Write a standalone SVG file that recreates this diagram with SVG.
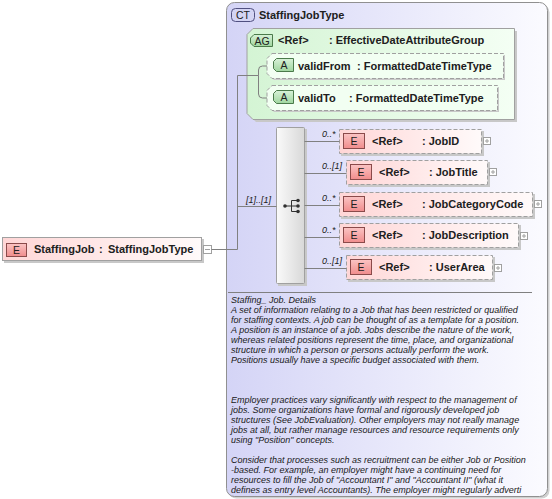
<svg xmlns="http://www.w3.org/2000/svg" width="552" height="499" viewBox="0 0 552 499">
<defs>
<linearGradient id="gCT" x1="0" y1="0" x2="1" y2="0"><stop offset="0" stop-color="#d4d4f6"/><stop offset="1" stop-color="#fbfbff"/></linearGradient>
<linearGradient id="gAG" x1="0" y1="0" x2="1" y2="0"><stop offset="0" stop-color="#d4f4d4"/><stop offset="1" stop-color="#f4fff4"/></linearGradient>
<linearGradient id="gEl" x1="0" y1="0" x2="1" y2="0"><stop offset="0" stop-color="#ffd6d6"/><stop offset="1" stop-color="#fffafa"/></linearGradient>
<linearGradient id="gSeq" x1="0" y1="0" x2="1" y2="0"><stop offset="0" stop-color="#fafafa"/><stop offset="1" stop-color="#d8d8d8"/></linearGradient>
<linearGradient id="gE" x1="0" y1="0" x2="0" y2="1"><stop offset="0" stop-color="#fbc4c4"/><stop offset="1" stop-color="#f08c8c"/></linearGradient>
<linearGradient id="gA" x1="0" y1="0" x2="0" y2="1"><stop offset="0" stop-color="#d8f2d8"/><stop offset="1" stop-color="#9fd69f"/></linearGradient>
</defs>
<style>
.t{font-family:"Liberation Sans",Arial,sans-serif;font-size:11px;font-weight:bold;fill:#202020}
.b{font-family:"Liberation Sans",Arial,sans-serif;font-size:10.5px;fill:#202020;text-anchor:middle}
.m{font-family:"Liberation Sans",Arial,sans-serif;font-size:9px;font-style:italic;fill:#202020}
.d{font-family:"Liberation Sans",Arial,sans-serif;font-size:9px;font-style:italic;fill:#202020}
.ln{fill:none;stroke:#808080;stroke-width:1}
.sh{fill:#c8c8c8}
.dash{fill:url(#gEl);stroke:#a0a0a0;stroke-dasharray:4,2}
.eb{fill:url(#gE);stroke:#8a4a4a;stroke-width:1}
.ab{fill:url(#gA);stroke:#4a7a4a;stroke-width:1}
.pb{fill:#ffffff;stroke:#a0a0a0}
.pl{stroke:#a0a0a0;stroke-width:1}
</style>

<g id="complexType">
<rect x="228.5" y="4.5" width="321" height="494" rx="8" fill="#d0d0d0"/>
<rect x="226.5" y="2.5" width="321" height="494" rx="8" fill="url(#gCT)" stroke="#909090"/>
<rect x="231.5" y="8.5" width="23" height="13" rx="4" fill="#d4d4f4" stroke="#505080"/>
<text class="b" x="243" y="18.5">CT</text>
<text class="t" x="259" y="19">StaffingJobType</text>
<line x1="228" y1="292.5" x2="532" y2="292.5" stroke="#808080"/>
<text class="d" x="231" y="303">Staffing_ Job. Details</text>
<text class="d" x="231" y="313">A set of information relating to a Job that has been restricted or qualified</text>
<text class="d" x="231" y="323">for staffing contexts. A job can be thought of as a template for a position.</text>
<text class="d" x="231" y="333">A position is an instance of a job. Jobs describe the nature of the work,</text>
<text class="d" x="231" y="343">whereas related positions represent the time, place, and organizational</text>
<text class="d" x="231" y="353">structure in which a person or persons actually perform the work.</text>
<text class="d" x="231" y="363">Positions usually have a specific budget associated with them.</text>
<text class="d" x="231" y="403">Employer practices vary significantly with respect to the management of</text>
<text class="d" x="231" y="413">jobs. Some organizations have formal and rigorously developed job</text>
<text class="d" x="231" y="423">structures (See JobEvaluation). Other employers may not really manage</text>
<text class="d" x="231" y="433">jobs at all, but rather manage resources and resource requirements only</text>
<text class="d" x="231" y="443">using &quot;Position&quot; concepts.</text>
<text class="d" x="231" y="463">Consider that processes such as recruitment can be either Job or Position</text>
<text class="d" x="231" y="473">-based. For example, an employer might have a continuing need for</text>
<text class="d" x="231" y="483">resources to fill the Job of &quot;Accountant I&quot; and &quot;Accountant II&quot; (what it</text>
<text class="d" x="231" y="493">defines as entry level Accountants). The employer might regularly adverti</text>
</g>

<g id="attributeGroup">
<polygon points="256,31 517,31 517,122 256,122 250,116 250,37" fill="#c8c8c8"/>
<polygon points="253,28.5 514.5,28.5 514.5,119.5 253,119.5 247,113.5 247,34.5" fill="url(#gAG)" stroke="#a0a0a0"/>
<polygon points="254,34.5 272.5,34.5 272.5,46.5 254,46.5 250.5,43 250.5,38" fill="url(#gA)" stroke="#4a7a4a"/>
<text class="b" x="262" y="44.5">AG</text>
<text class="t" x="278" y="44">&lt;Ref&gt;</text>
<text class="t" x="329" y="44">: EffectiveDateAttributeGroup</text>
</g>

<g id="validFrom">
<polygon points="274,55 505,55 505,80 274,80 269,75 269,60" class="sh"/>
<polygon points="272,53.5 503.5,53.5 503.5,78.5 272,78.5 267,73.5 267,58.5" fill="#f2fff2" stroke="#a0a0a0" stroke-dasharray="4,2"/>
<polygon points="276.5,58.5 293.5,58.5 293.5,71.5 276.5,71.5 273.5,68.5 273.5,61.5" class="ab"/>
<text class="b" x="284" y="69">A</text>
<text class="t" x="298" y="69.5">validFrom</text>
<text class="t" x="357" y="69.5">: FormattedDateTimeType</text>
</g>

<g id="validTo">
<polygon points="274,87 499,87 499,112 274,112 269,107 269,92" class="sh"/>
<polygon points="272,85.5 497.5,85.5 497.5,110.5 272,110.5 267,105.5 267,90.5" fill="#f2fff2" stroke="#a0a0a0" stroke-dasharray="4,2"/>
<polygon points="276.5,90.5 293.5,90.5 293.5,103.5 276.5,103.5 273.5,100.5 273.5,93.5" class="ab"/>
<text class="b" x="284" y="101">A</text>
<text class="t" x="298" y="101.5">validTo</text>
<text class="t" x="349" y="101.5">: FormattedDateTimeType</text>
</g>

<g id="StaffingJob">
<rect x="4" y="239" width="200" height="24" class="sh"/>
<rect x="2.5" y="237.5" width="199" height="23" fill="url(#gEl)" stroke="#a0a0a0"/>
<rect x="6.5" y="243.5" width="20" height="13" class="eb"/>
<text class="b" x="16.5" y="253.5">E</text>
<text class="t" x="34" y="253">StaffingJob</text>
<text class="t" x="99" y="253">:</text>
<text class="t" x="108" y="253">StaffingJobType</text>
<rect x="203.5" y="245.5" width="8" height="8" class="pb"/>
<line x1="205" y1="249.5" x2="210" y2="249.5" class="pl"/>
</g>

<g id="sequence">
<rect x="278" y="129" width="29" height="157" fill="#c8c8c8"/>
<rect x="276.5" y="127.5" width="28" height="156" rx="1" fill="url(#gSeq)" stroke="#a0a0a0"/>
<line x1="285" y1="206" x2="291.5" y2="206" stroke="#303030"/>
<path d="M298,200.5 H291.5 V211.5 H298 M291.5,206 H298" fill="none" stroke="#303030"/>
<circle cx="285" cy="206" r="1.8" fill="#303030"/>
<circle cx="298" cy="200.5" r="1.8" fill="#303030"/>
<circle cx="298" cy="206" r="1.8" fill="#303030"/>
<circle cx="298" cy="211.5" r="1.8" fill="#303030"/>
</g>

<g id="JobID">
<rect x="341" y="131" width="143" height="25" class="sh"/>
<rect x="339.5" y="129.5" width="142" height="24" class="dash"/>
<rect x="343.5" y="133.5" width="21" height="15" class="eb"/>
<text class="b" x="354" y="145">E</text>
<text class="t" x="372" y="145">&lt;Ref&gt;</text>
<text class="t" x="422" y="145">: JobID</text>
<rect x="483.5" y="137.5" width="7" height="7" class="pb"/>
<path d="M485,141 H489 M487,139 V143" class="pl"/>
</g>

<g id="JobTitle">
<rect x="348" y="162" width="142" height="25" class="sh"/>
<rect x="346.5" y="160.5" width="141" height="24" class="dash"/>
<rect x="350.5" y="164.5" width="21" height="15" class="eb"/>
<text class="b" x="361" y="176">E</text>
<text class="t" x="379" y="176">&lt;Ref&gt;</text>
<text class="t" x="429" y="176">: JobTitle</text>
<rect x="489.5" y="168.5" width="7" height="7" class="pb"/>
<path d="M491,172 H495 M493,170 V174" class="pl"/>
</g>

<g id="JobCategoryCode">
<rect x="341" y="194" width="194" height="25" class="sh"/>
<rect x="339.5" y="192.5" width="193" height="24" class="dash"/>
<rect x="343.5" y="196.5" width="21" height="15" class="eb"/>
<text class="b" x="354" y="208">E</text>
<text class="t" x="372" y="208">&lt;Ref&gt;</text>
<text class="t" x="422" y="208">: JobCategoryCode</text>
<rect x="534.5" y="200.5" width="7" height="7" class="pb"/>
<path d="M536,204 H540 M538,202 V206" class="pl"/>
</g>

<g id="JobDescription">
<rect x="341" y="225" width="180" height="25" class="sh"/>
<rect x="339.5" y="223.5" width="179" height="24" class="dash"/>
<rect x="343.5" y="227.5" width="21" height="15" class="eb"/>
<text class="b" x="354" y="239">E</text>
<text class="t" x="372" y="239">&lt;Ref&gt;</text>
<text class="t" x="422" y="239">: JobDescription</text>
<rect x="520.5" y="232.5" width="7" height="7" class="pb"/>
<path d="M522,236 H526 M524,234 V238" class="pl"/>
</g>

<g id="UserArea">
<rect x="348" y="257" width="147" height="25" class="sh"/>
<rect x="346.5" y="255.5" width="146" height="24" class="dash"/>
<rect x="350.5" y="259.5" width="21" height="15" class="eb"/>
<text class="b" x="361" y="271">E</text>
<text class="t" x="379" y="271">&lt;Ref&gt;</text>
<text class="t" x="429" y="271">: UserArea</text>
<rect x="494.5" y="264.5" width="7" height="7" class="pb"/>
<path d="M496,268 H500 M498,266 V270" class="pl"/>
</g>

<g id="connectors">
<path class="ln" d="M211.5,249.5 H237.5 V75.5 H258.5"/>
<path class="ln" d="M258.5,75.5 V70 Q258.5,66 262.5,66 H267"/>
<path class="ln" d="M258.5,75.5 V94 Q258.5,98 262.5,98 H267"/>
<path class="ln" d="M237.5,206.5 H276.5"/>
<text class="m" x="246" y="203">[1]..[1]</text>
<path class="ln" d="M304.5,141.5 H339.5"/>
<text class="m" x="322" y="137">0..*</text>
<path class="ln" d="M304.5,173.5 H346.5"/>
<text class="m" x="322" y="169">0..[1]</text>
<path class="ln" d="M304.5,205.5 H339.5"/>
<text class="m" x="322" y="201">0..*</text>
<path class="ln" d="M304.5,237.5 H339.5"/>
<text class="m" x="322" y="233">0..*</text>
<path class="ln" d="M304.5,268.5 H346.5"/>
<text class="m" x="322" y="264">0..[1]</text>
</g>
</svg>
